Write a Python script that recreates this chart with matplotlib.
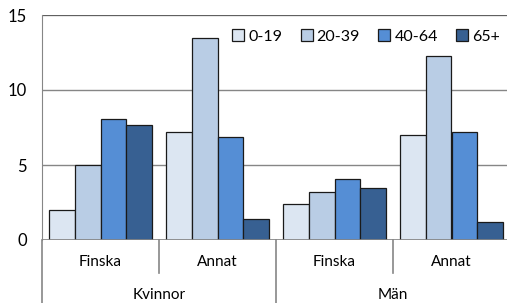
import numpy as np
import matplotlib.pyplot as plt
from matplotlib.patches import Patch

plt.rcParams['font.family'] = ['Lato', 'DejaVu Sans']

groups = ['Kvinnor', 'Män']
subgroups = ['Finska', 'Annat', 'Finska', 'Annat']
ages = ['0-19', '20-39', '40-64', '65+']
colors = ['#dce6f2', '#b9cde5', '#558ed5', '#376092']

v_0_19 = [2.0, 7.2, 2.4, 7.0]
v_20_39 = [5.0, 13.5, 3.2, 12.3]
v_40_64 = [8.1, 6.9, 4.1, 7.2]
v_65 = [7.7, 1.4, 3.5, 1.2]
series = [v_0_19, v_20_39, v_40_64, v_65]

W, H = 507, 303
fig = plt.figure(figsize=(W / 100, H / 100), dpi=100)
ax = fig.add_axes([42 / W, 63 / H, 468 / W, 225 / H])

x = np.arange(len(subgroups))
w = 0.222
for i, (vals, c) in enumerate(zip(series, colors)):
    ax.bar(x + (i - 1.5) * w, vals, w, color=c, edgecolor='#1a1a1a',
           linewidth=0.9, label=ages[i], zorder=3)

ax.set_xlim(-0.5, 3.5)
ax.set_ylim(0, 15)
ax.set_yticks([0, 5, 10, 15])
ax.tick_params(axis='y', length=0, labelsize=12, pad=11)
ax.set_xticks([])
ax.yaxis.grid(True, color='#868686', linewidth=1, zorder=0)
for s in ['top', 'right', 'bottom']:
    ax.spines[s].set_visible(False)
ax.spines['left'].set_color('#868686')
ax.axhline(15, color='#595959', linewidth=1.2, zorder=2)
ax.axhline(0, color='#868686', linewidth=1.2, zorder=4)

# multi-level category axis
trans = ax.get_xaxis_transform()
for xs, y0 in [(-0.5, -0.29), (0.5, -0.147), (1.5, -0.29), (2.5, -0.147)]:
    ax.plot([xs, xs], [0, y0], color='#868686', linewidth=1.2,
            transform=trans, clip_on=False)
for xi, lab in zip(x, subgroups):
    ax.text(xi, -0.098, lab, transform=trans, ha='center', va='center', fontsize=11)
for gi, lab in enumerate(groups):
    ax.text(0.5 + 2 * gi, -0.245, lab, transform=trans, ha='center', va='center', fontsize=11)

handles = [Patch(facecolor=c, edgecolor='#1a1a1a', linewidth=0.9) for c in colors]
ax.legend(handles, ages, loc='upper left', bbox_to_anchor=(0.393, 0.965),
          ncol=4, frameon=False, fontsize=11.5, handlelength=0.75, handleheight=0.75,
          handletextpad=0.25, columnspacing=1.15, borderaxespad=0)

fig.savefig('out.png', dpi=100)
